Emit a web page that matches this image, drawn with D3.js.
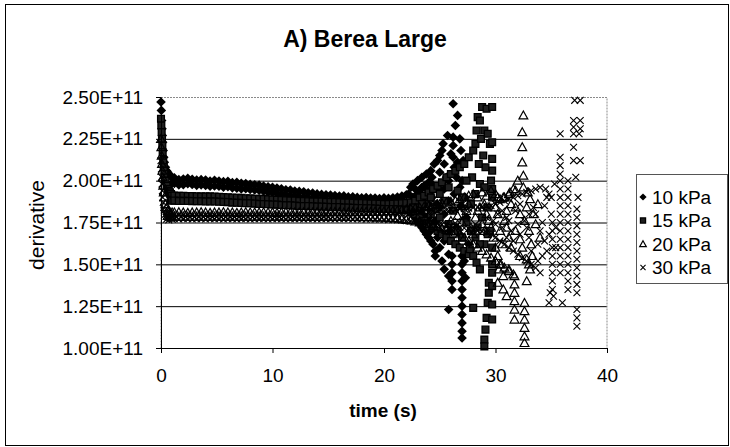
<!DOCTYPE html>
<html>
<head>
<meta charset="utf-8">
<script src="https://cdn.jsdelivr.net/npm/d3@7"></script>
<style>
  body { margin: 0; background: #fff; }
  text { font-family: "Liberation Sans", Arial, sans-serif; fill: #000; }
</style>
</head>
<body>
<svg id="chart" width="730" height="447"></svg>
<script>
"use strict";

// values are in units of 1E+11
const seriesNames = ["10 kPa", "15 kPa", "20 kPa", "30 kPa"];
const xTicks = [0, 10, 20, 30, 40];
const yTicks = [1.0, 1.25, 1.5, 1.75, 2.0, 2.25, 2.5];

// start-up spike, [time, value]
const spike10 = [[0,2.47],[0.03,2.42],[0.06,2.36],[0.09,2.31],[0.12,2.27],[0.15,2.23],[0.2,2.18],[0.25,2.14],[0.3,2.11],[0.4,2.08],[0.5,2.06],[0.6,2.05],[0.7,2.04],[0.8,2.03],[0.9,1.98],[1.0,2.02]];
const spike15 = [[0,2.37],[0.03,2.33],[0.06,2.29],[0.09,2.25],[0.12,2.21],[0.15,2.17],[0.2,2.12],[0.25,2.08],[0.3,2.04],[0.4,2.0],[0.5,1.97],[0.6,1.95],[0.7,1.94],[0.8,1.93],[0.9,1.92],[1.0,1.91],[0.9,1.885],[1.0,1.88]];
const spike20 = [[0,2.25],[0.03,2.2],[0.06,2.15],[0.09,2.1],[0.12,2.06],[0.15,2.02],[0.2,1.97],[0.25,1.93],[0.3,1.9],[0.4,1.86],[0.5,1.84],[0.6,1.82],[0.7,1.815],[0.8,1.81],[0.9,1.805],[1.0,1.81],[0.6,1.79],[0.8,1.785],[1.0,1.785]];
const spike30 = [[0,2.12],[0.03,2.07],[0.06,2.02],[0.09,1.98],[0.12,1.94],[0.15,1.9],[0.2,1.87],[0.25,1.84],[0.3,1.82],[0.4,1.8],[0.5,1.79],[0.6,1.785],[0.7,1.78],[0.8,1.775],[0.9,1.775],[1.0,1.77],[0.5,1.77],[0.7,1.765]];

// steady part: sample times, upper and lower edge of each band
const bandT = [1.2,1.6,2.0,2.4,2.8,3.2,3.6,4.0,4.4,4.8,5.2,5.6,6.0,6.4,6.8,7.2,7.6,8.0,8.4,8.8,
  9.2,9.6,10.0,10.4,10.8,11.2,11.6,12.0,12.4,12.8,13.2,13.6,14.0,14.4,14.8,15.2,15.6,16.0,16.4,16.8,
  17.2,17.6,18.0,18.4,18.8,19.2,19.6,20.0,20.4,20.8,21.2,21.6,22.0,22.4,22.8,23.2,23.6,24.0,24.4,24.8,
  25.2,25.6,26.0,26.4,26.8,27.2,27.6,28.0,28.4,28.8,29.2,29.6,30.0];

const hi10 = [2.017,2.006,2.01,2.014,2.008,2.004,2.006,2.004,1.998,2.002,1.998,1.994,1.996,1.988,1.99,1.984,1.983,1.978,1.976,1.974,
  1.968,1.964,1.96,1.956,1.951,1.946,1.944,1.938,1.936,1.934,1.928,1.926,1.921,1.918,1.916,1.914,1.911,1.908,1.909,1.903,
  1.904,1.9,1.898,1.899,1.896,1.896,1.893,1.897,1.894,1.898,1.902,1.908,1.916];
const lo10 = [1.984,1.975,1.976,1.982,1.977,1.972,1.975,1.971,1.967,1.968,1.967,1.961,1.964,1.957,1.955,1.951,1.952,1.947,1.944,1.942,
  1.937,1.931,1.93,1.924,1.919,1.914,1.911,1.907,1.904,1.901,1.897,1.894,1.889,1.887,1.884,1.881,1.879,1.877,1.876,1.872,
  1.871,1.87,1.867,1.866,1.864,1.864,1.862,1.863,1.861,1.862,1.863,1.862,1.864];
const hi15 = [1.911,1.909,1.91,1.908,1.908,1.907,1.906,1.906,1.906,1.905,1.904,1.902,1.901,1.899,1.898,1.897,1.895,1.894,1.892,1.891,
  1.891,1.889,1.887,1.886,1.884,1.883,1.882,1.881,1.879,1.878,1.877,1.876,1.875,1.875,1.873,1.873,1.873,1.871,1.87,1.869,
  1.868,1.866,1.866,1.865,1.864,1.863,1.862,1.861,1.861,1.862,1.863,1.865,1.867];
const lo15 = [1.881,1.879,1.879,1.879,1.878,1.877,1.877,1.876,1.876,1.876,1.874,1.873,1.872,1.869,1.868,1.867,1.865,1.865,1.863,1.861,
  1.861,1.859,1.858,1.857,1.855,1.853,1.853,1.851,1.849,1.849,1.848,1.847,1.846,1.845,1.844,1.843,1.843,1.842,1.84,1.839,
  1.838,1.837,1.836,1.835,1.835,1.833,1.832,1.831,1.831,1.83,1.829,1.827,1.823];
const hi20 = [1.81,1.812,1.81,1.808,1.81,1.81,1.812,1.81,1.808,1.81,1.81,1.812,1.81,1.81,1.808,1.81,1.812,1.81,1.81,1.81,
  1.812,1.81,1.81,1.808,1.81,1.812,1.81,1.81,1.81,1.812,1.81,1.81,1.812,1.81,1.81,1.812,1.814,1.812,1.81,1.812,
  1.814,1.812,1.814,1.815,1.814,1.816,1.815,1.816,1.818,1.82,1.822,1.825,1.828,1.832,1.836,1.84,1.845,1.85,1.855,1.86,
  1.865,1.87,1.875];
const lo20 = [1.785,1.784,1.786,1.785,1.784,1.785,1.786,1.784,1.785,1.785,1.786,1.784,1.785,1.785,1.784,1.786,1.785,1.784,1.785,1.786,
  1.785,1.784,1.785,1.786,1.785,1.784,1.785,1.785,1.786,1.784,1.785,1.785,1.784,1.786,1.785,1.784,1.785,1.784,1.785,1.784,
  1.783,1.784,1.782,1.783,1.782,1.781,1.78,1.78,1.778,1.776,1.774,1.77,1.766,1.762,1.756,1.75,1.744,1.738,1.73,1.722,
  1.714,1.706,1.698];
const hi30 = [1.797,1.796,1.798,1.797,1.796,1.797,1.798,1.796,1.797,1.797,1.798,1.796,1.797,1.797,1.796,1.798,1.797,1.796,1.797,1.798,
  1.797,1.796,1.797,1.798,1.797,1.796,1.797,1.797,1.798,1.796,1.797,1.797,1.796,1.798,1.797,1.797,1.796,1.798,1.797,1.797,
  1.798,1.797,1.798,1.799,1.798,1.799,1.8,1.8,1.801,1.802,1.803,1.804,1.806,1.808,1.81,1.812,1.814,1.816,1.818,1.82,
  1.822,1.824,1.826,1.828,1.83,1.833,1.836,1.839,1.842,1.846,1.85];
const lo30 = [1.772,1.771,1.773,1.772,1.771,1.772,1.773,1.771,1.772,1.772,1.773,1.771,1.772,1.772,1.771,1.773,1.772,1.771,1.772,1.773,
  1.772,1.771,1.772,1.773,1.772,1.771,1.772,1.772,1.773,1.771,1.772,1.772,1.771,1.773,1.772,1.772,1.771,1.773,1.772,1.772,
  1.771,1.772,1.771,1.77,1.771,1.77,1.769,1.768,1.767,1.766,1.765,1.763,1.761,1.759,1.757,1.754,1.751,1.748,1.745,1.742,
  1.738,1.734,1.73,1.726,1.722,1.717,1.712,1.707,1.702,1.696,1.69];

// unstable end of each run, [time, value]
const scatter10 = [[22.4,1.96],[22.4,1.82],[22.6,1.98],[22.6,1.8],[22.8,1.95],[22.8,1.78],[22.8,1.88],[23.0,2.0],[23.0,1.76],
  [23.2,1.94],[23.2,1.74],[23.2,1.84],[23.4,2.02],[23.4,1.72],[23.6,1.97],[23.6,1.7],[23.6,1.9],[23.8,2.04],[23.8,1.68],
  [24.0,1.99],[24.0,1.66],[24.0,1.78],[24.2,2.06],[24.2,1.64],[24.3,2.02],[24.3,1.98],[24.3,1.94],[24.3,1.9],[24.4,1.62],
  [24.5,2.1],[24.5,1.72],[24.6,1.58],[24.6,1.55],[24.7,1.86],[24.8,2.12],[24.8,1.66],[25.0,2.15],[25.0,1.6],[25.0,1.95],
  [25.2,2.18],[25.2,1.52],[25.3,2.22],[25.4,1.8],[25.4,1.47],[25.6,2.02],[25.7,2.27],[25.8,1.43],[25.8,1.23],[25.9,1.7],
  [26.1,1.55],[26.1,1.5],[26.1,1.45],[26.1,1.4],[26.1,1.35],[26.2,2.46],[26.2,2.26],[26.2,2.21],[26.2,2.14],[26.3,2.08],
  [26.3,1.92],[26.4,2.33],[26.5,1.62],[26.6,2.39],[26.6,2.11],[26.8,2.25],[26.9,1.85],[26.9,2.18],[27.1,2.12],[27.0,2.0],
  [27.0,1.55],[27.0,1.5],[27.0,1.45],[27.0,1.4],[27.0,1.35],[27.0,1.3],[27.0,1.25],[27.0,1.2],[27.0,1.15],[27.0,1.1],
  [27.0,1.06],[27.2,1.52],[27.3,1.42],
  [21.2,1.88],[21.6,1.9],[22.0,1.86],[21.4,1.84],[21.8,1.83],[22.2,1.92],[22.2,1.85],[22.6,1.9],[22.6,1.86],[23.0,1.92],
  [23.0,1.82],[23.4,1.96],[23.4,1.8],[23.8,1.95],[23.8,1.78],[24.0,1.86],[24.2,1.7],[24.6,1.96],[24.6,1.76],[25.0,1.84],
  [25.0,2.05],[25.0,1.7],[25.4,1.95],[25.4,2.1],[25.4,1.64],[25.8,1.88],[25.8,2.0],[25.8,1.56],[26.0,2.16],[26.5,1.72],
  [26.5,2.02],[26.8,1.96],[26.8,1.68],[27.3,1.9],[27.4,1.78],[27.6,1.62]];
const scatter15 = [[22.4,1.87],[22.4,1.81],[22.8,1.88],[22.8,1.8],[23.2,1.9],[23.2,1.78],[23.6,1.91],[23.6,1.76],[24.0,1.93],
  [24.0,1.74],[24.4,1.95],[24.4,1.72],[24.8,1.97],[24.8,1.7],[25.2,1.99],[25.2,1.68],[25.6,2.02],[25.6,1.66],[26.0,2.04],
  [26.0,1.64],[26.4,2.06],[26.4,1.62],[26.8,2.08],[26.8,1.6],[27.2,2.1],[27.2,1.58],[27.6,2.14],[27.6,1.56],
  [23.0,1.84],[23.8,1.86],[24.6,1.83],[25.4,1.88],[26.2,1.82],[27.0,1.9],[27.4,1.75],[27.8,1.7],
  [28.0,2.18],[28.2,2.22],[28.4,2.38],[28.6,2.36],[28.7,2.25],[28.8,2.44],[29.0,2.3],[29.2,2.43],[29.3,2.28],[29.5,2.22],
  [29.7,2.44],[29.7,2.23],[29.7,2.13],[29.7,2.06],[28.3,2.3],[28.9,2.15],[29.1,2.08],[28.5,2.1],[27.9,2.02],[28.6,1.98],
  [29.7,1.95],[29.7,1.9],[27.7,1.59],[28.0,1.55],[28.3,1.51],[28.6,1.47],[29.4,1.39],[29.4,1.33],[29.3,1.27],[28.0,1.24],
  [29.2,1.18],[29.1,1.11],[29.0,1.05],[29.0,1.01],[29.7,1.6],[29.7,1.5],[29.7,1.45],[29.7,1.37],[29.7,1.26],[29.7,1.17],
  [29.0,1.62],[29.3,1.68],[28.4,1.72],
  [22.6,1.84],[23.4,1.86],[24.2,1.8],[24.2,1.9],[25.0,1.78],[25.0,1.92],[25.8,1.74],[25.8,1.96],[26.6,1.7],[26.6,1.94],
  [27.0,1.66],[27.4,2.0],[27.8,1.86],[28.2,1.66],[28.2,1.92],[28.6,1.62],[28.8,1.78],[29.0,1.96],[29.3,1.84],[29.5,1.7],
  [29.6,2.0]];
const scatter20 = [[26.4,1.88],[26.4,1.69],[26.8,1.89],[26.8,1.68],[27.2,1.9],[27.2,1.66],[27.6,1.91],[27.6,1.64],[28.0,1.92],
  [28.0,1.62],[28.4,1.9],[28.4,1.6],[28.8,1.93],[28.8,1.58],[29.2,1.91],[29.2,1.56],[29.6,1.94],[29.6,1.54],[30.0,1.92],
  [30.0,1.52],[30.4,1.89],[30.4,1.5],[30.8,1.9],[30.8,1.48],[31.2,1.92],[31.2,1.46],[31.6,1.95],[31.6,1.44],
  [26.6,1.79],[27.0,1.75],[27.4,1.82],[27.8,1.72],[28.2,1.78],[28.6,1.84],[29.0,1.7],[29.4,1.76],[29.8,1.66],[30.2,1.8],
  [30.6,1.62],[31.0,1.72],[31.4,1.6],[31.8,1.84],[27.0,1.85],[28.0,1.68],[29.0,1.86],[30.0,1.6],[31.0,1.82],[32.2,1.65],
  [32.6,1.76],[33.0,1.7],[33.4,1.8],
  [32.5,2.39],[32.4,2.29],[32.4,2.2],[32.4,2.11],[32.5,2.03],[32.0,2.0],[31.8,1.94],[31.3,1.93],[30.7,1.9],[32.5,1.96],
  [32.9,1.93],[33.1,1.89],[30.2,1.9],
  [31.7,1.43],[31.7,1.38],[31.7,1.33],[31.7,1.28],[31.7,1.23],[31.7,1.17],[32.6,1.27],[32.6,1.22],[32.6,1.17],[32.6,1.12],
  [32.6,1.07],[32.6,1.03],[30.7,1.35],[30.7,1.43],[30.2,1.39],[31.2,1.47],[30.2,1.55],[30.5,1.5],[31.0,1.31],[33.0,1.5],
  [33.3,1.55],[32.2,1.55],[32.8,1.4],[30.3,1.47],[32.8,1.53],[33.1,1.47],
  [22.6,1.82],[23.2,1.76],[23.8,1.84],[24.4,1.74],[25.0,1.86],[25.6,1.72],[26.2,1.84],[26.0,1.76],[27.2,1.78],[27.6,1.86],
  [28.2,1.7],[28.4,1.82],[28.8,1.74],[29.2,1.8],[29.6,1.72],[30.0,1.84],[30.4,1.7],[30.8,1.76],[31.2,1.66],[31.4,1.86],
  [31.8,1.7],[32.2,1.8],[32.4,1.6],[32.8,1.84],[33.2,1.62],[33.6,1.74],[33.8,1.86],[34.0,1.66]];
const scatter30 = [[29.6,1.85],[29.6,1.68],[30.0,1.86],[30.0,1.66],[30.4,1.87],[30.4,1.64],[30.8,1.88],[30.8,1.62],[31.2,1.89],
  [31.2,1.6],[31.6,1.9],[31.6,1.58],[32.0,1.91],[32.0,1.56],[32.4,1.92],[32.4,1.54],[32.8,1.93],[32.8,1.52],[33.2,1.94],
  [33.2,1.5],[33.6,1.95],[33.6,1.48],[34.0,1.96],[34.0,1.45],
  [29.8,1.76],[30.2,1.8],[30.6,1.72],[31.0,1.78],[31.4,1.7],[31.8,1.82],[32.2,1.68],[32.6,1.76],[33.0,1.66],[33.4,1.84],
  [33.8,1.62],[34.2,1.75],[34.4,1.85],[34.6,1.58],[34.8,1.68],[33.0,1.8],[32.0,1.74],[31.0,1.66],
  [35.1,1.75],[35.1,1.7],[35.1,1.65],[35.1,1.6],[35.1,1.55],[35.1,1.5],[35.1,1.45],[35.1,1.4],[35.1,1.35],[34.8,1.27],
  [35.8,2.28],[35.8,2.14],[35.8,2.09],[35.8,2.04],[35.8,2.0],[35.8,1.95],[35.8,1.9],[35.8,1.85],[35.8,1.8],[35.8,1.75],
  [35.8,1.7],[35.8,1.65],[35.8,1.6],[35.8,1.55],[35.8,1.5],[35.8,1.45],[36.0,1.27],
  [36.5,2.0],[36.5,1.95],[36.5,1.9],[36.5,1.85],[36.5,1.8],[36.5,1.75],[36.5,1.7],[36.5,1.65],[36.5,1.6],[36.5,1.55],
  [36.5,1.5],[36.5,1.45],[36.5,1.4],[36.5,1.35],
  [37.3,1.78],[37.3,1.73],[37.3,1.68],[37.3,1.63],[37.3,1.58],[37.3,1.53],[37.3,1.48],[37.3,1.43],[37.3,1.38],[37.3,1.33],
  [37.3,1.23],[37.3,1.18],[37.3,1.13],
  [37.1,2.48],[37.6,2.48],[37.0,2.36],[37.6,2.36],[37.0,2.32],[37.6,2.31],[37.0,2.28],[37.5,2.28],[37.0,2.2],[37.0,2.12],
  [37.6,2.12],[37.2,2.02],[37.4,1.9],[37.3,1.83],
  [34.5,1.95],[34.8,1.92],[35.0,1.9],[35.3,1.98],[34.9,1.33],[35.2,1.31],
  [24.2,1.79],[25.0,1.74],[25.8,1.82],[26.6,1.76],[27.4,1.8],[28.2,1.74],[28.8,1.84],[29.2,1.78],[30.0,1.74],[30.6,1.82],
  [31.2,1.76],[31.6,1.64],[32.2,1.86],[32.8,1.72],[33.2,1.58],[33.6,1.8],[34.0,1.7],[34.4,1.64],[34.6,1.9],[35.0,1.8],
  [35.4,1.72],[35.4,1.6],[34.2,1.55],[33.8,1.52]];

const svg = d3.select("#chart");
const plotLeft = 161, plotRight = 607, plotTop = 97, plotBottom = 348;

const x = d3.scaleLinear().domain([0, 40]).range([plotLeft, plotRight]);
const y = d3.scaleLinear().domain([1.0, 2.5]).range([plotBottom, plotTop]);

// chart border
svg.append("rect")
  .attr("x", 5.5).attr("y", 4.5).attr("width", 723).attr("height", 441)
  .attr("fill", "none").attr("stroke", "#000");

// marker shapes, size = half width
const diamond = { draw(c, r) { c.moveTo(0, -r); c.lineTo(r, 0); c.lineTo(0, r); c.lineTo(-r, 0); c.closePath(); } };
const square = { draw(c, r) { c.rect(-r, -r, 2 * r, 2 * r); } };
const triangle = { draw(c, r) { c.moveTo(0, -r); c.lineTo(r, r * 0.8); c.lineTo(-r, r * 0.8); c.closePath(); } };
const cross = { draw(c, r) { c.moveTo(-r, -r); c.lineTo(r, r); c.moveTo(r, -r); c.lineTo(-r, r); } };

const series = [
  { name: seriesNames[0], spike: spike10, hi: hi10, lo: lo10, scatter: scatter10, type: diamond, r: 4.8, fill: "#000", stroke: "none", sw: 0 },
  { name: seriesNames[1], spike: spike15, hi: hi15, lo: lo15, scatter: scatter15, type: square, r: 3.4, fill: "#1e1e1e", stroke: "#000", sw: 1.3 },
  { name: seriesNames[2], spike: spike20, hi: hi20, lo: lo20, scatter: scatter20, type: triangle, r: 4.4, fill: "none", stroke: "#000", sw: 1.2 },
  { name: seriesNames[3], spike: spike30, hi: hi30, lo: lo30, scatter: scatter30, type: cross, r: 3.4, fill: "none", stroke: "#000", sw: 1.1 },
];

series.forEach((s) => {
  s.points = s.spike
    .concat(s.hi.map((v, i) => [bandT[i], v]))
    .concat(s.lo.map((v, i) => [bandT[i], v]))
    .concat(s.scatter);
});

// grid
const grid = svg.append("g").attr("transform", `translate(${plotLeft},0)`)
  .call(d3.axisLeft(y).tickValues(yTicks.slice(1, -1)).tickSize(-(plotRight - plotLeft)).tickFormat(""));
grid.select(".domain").remove();
grid.selectAll("line").attr("stroke", "#000").attr("stroke-width", 1);

// plot area frame (top / right)
svg.append("rect")
  .attr("x", plotLeft).attr("y", plotTop + 0.5).attr("width", plotRight - plotLeft).attr("height", plotBottom - plotTop)
  .attr("fill", "none").attr("stroke", "#8a8a8a").attr("stroke-dasharray", "2,1");

// points
series.forEach((s) => {
  svg.append("g").selectAll("path")
    .data(s.points)
    .enter()
    .append("path")
    .attr("transform", (d) => `translate(${x(d[0])},${y(d[1])})`)
    .attr("d", d3.symbol().type(s.type).size(s.r))
    .attr("fill", s.fill)
    .attr("stroke", s.stroke)
    .attr("stroke-width", s.sw);
});

// axes
const yAxis = svg.append("g").attr("transform", `translate(${plotLeft},0)`)
  .call(d3.axisLeft(y).tickValues(yTicks).tickSize(5).tickSizeOuter(0).tickPadding(13)
    .tickFormat((d) => d3.format(".2f")(d) + "E+11"));
yAxis.selectAll("text").attr("font-size", 19).attr("fill", "#000");
yAxis.selectAll("line, path").attr("stroke", "#000");

const xAxis = svg.append("g").attr("transform", `translate(0,${plotBottom})`)
  .call(d3.axisBottom(x).tickValues(xTicks).tickSize(5).tickSizeOuter(0).tickPadding(16));
xAxis.selectAll("text").attr("font-size", 19).attr("fill", "#000");
xAxis.selectAll("line, path").attr("stroke", "#000");

// titles
svg.append("text").attr("x", 365).attr("y", 47).attr("text-anchor", "middle")
  .attr("font-size", 23).attr("font-weight", "bold").text("A) Berea Large");
svg.append("text").attr("x", 383).attr("y", 417).attr("text-anchor", "middle")
  .attr("font-size", 19).attr("font-weight", "bold").text("time (s)");
svg.append("text").attr("transform", "translate(44,225) rotate(-90)").attr("text-anchor", "middle")
  .attr("font-size", 21).text("derivative");

// legend
const legend = svg.append("g");
legend.append("rect").attr("x", 636.5).attr("y", 174.5).attr("width", 91).attr("height", 109)
  .attr("fill", "#fff").attr("stroke", "#555");
series.forEach((s, i) => {
  const ly = 197 + i * 23.5;
  legend.append("path")
    .attr("transform", `translate(643,${ly})`)
    .attr("d", d3.symbol().type(s.type).size(s.r * 0.75))
    .attr("fill", s.fill).attr("stroke", s.stroke).attr("stroke-width", s.sw);
  legend.append("text").attr("x", 652).attr("y", ly + 6.5)
    .attr("font-size", 19).text(s.name);
});
</script>
</body>
</html>
